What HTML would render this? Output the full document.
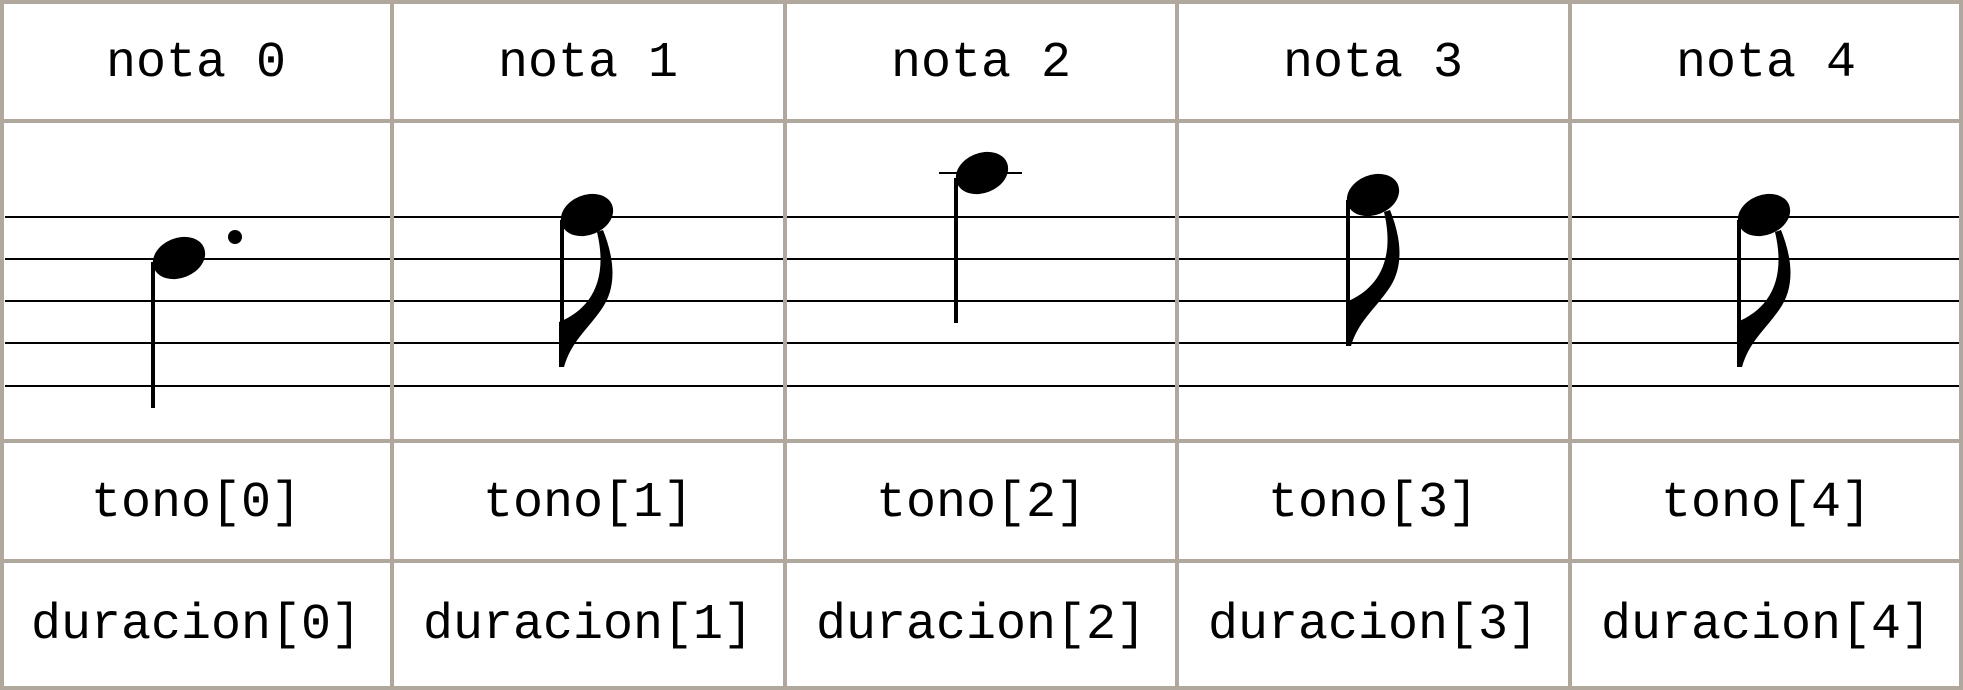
<!DOCTYPE html>
<html><head><meta charset="utf-8"><style>
html,body{margin:0;padding:0;background:#fff;}
svg{display:block}
text{font-family:"Liberation Mono",monospace;font-size:50px;fill:#000;text-anchor:middle;}
</style></head><body>
<svg width="1963" height="690" viewBox="0 0 1963 690" xmlns="http://www.w3.org/2000/svg">
<rect width="1963" height="690" fill="#fff"/>
<g stroke="#000" stroke-width="2">
<line x1="5" y1="217" x2="1960" y2="217"/>
<line x1="5" y1="259" x2="1960" y2="259"/>
<line x1="5" y1="301" x2="1960" y2="301"/>
<line x1="5" y1="343" x2="1960" y2="343"/>
<line x1="5" y1="386" x2="1960" y2="386"/>
</g>
<g stroke="#b0a89c" stroke-width="4" fill="none">
<rect x="2" y="2" width="1959" height="686"/>
<line x1="392" y1="0" x2="392" y2="690"/>
<line x1="785" y1="0" x2="785" y2="690"/>
<line x1="1177" y1="0" x2="1177" y2="690"/>
<line x1="1570" y1="0" x2="1570" y2="690"/>
<line x1="0" y1="121" x2="1963" y2="121"/>
<line x1="0" y1="441" x2="1963" y2="441"/>
<line x1="0" y1="561" x2="1963" y2="561"/>
</g>
<g>
<text x="196" y="76">nota 0</text>
<text x="588" y="76">nota 1</text>
<text x="981" y="76">nota 2</text>
<text x="1373" y="76">nota 3</text>
<text x="1766" y="76">nota 4</text>
<text x="196" y="516">tono[0]</text>
<text x="588" y="516">tono[1]</text>
<text x="981" y="516">tono[2]</text>
<text x="1373" y="516">tono[3]</text>
<text x="1766" y="516">tono[4]</text>
<text x="196" y="638">duracion[0]</text>
<text x="588" y="638">duracion[1]</text>
<text x="981" y="638">duracion[2]</text>
<text x="1373" y="638">duracion[3]</text>
<text x="1766" y="638">duracion[4]</text>
</g>
<g fill="#000" stroke="none">
<!-- note 0 -->
<ellipse cx="179" cy="258" rx="27" ry="20" transform="rotate(-22 179 258)"/>
<rect x="151" y="262" width="4" height="146"/>
<circle cx="235" cy="237" r="7"/>
<!-- note 1 -->
<ellipse cx="587" cy="215" rx="27" ry="20" transform="rotate(-22 587 215)"/>
<rect x="560" y="220" width="4" height="147"/>
<path d="M597,232 L603,230 C615,260 617,288 601,310 C587,330 571,342 564,367 L559,367 L559,322 C589,310 609,282 597,232 Z"/>
<!-- note 2 -->
<line x1="939" y1="173" x2="1022" y2="173" stroke="#000" stroke-width="2"/>
<ellipse cx="982" cy="173" rx="27" ry="20" transform="rotate(-22 982 173)"/>
<rect x="954" y="178" width="4" height="145"/>
<!-- note 3 -->
<ellipse cx="1373" cy="195" rx="27" ry="20" transform="rotate(-22 1373 195)"/>
<rect x="1346" y="200" width="4" height="146"/>
<path d="M1384,212 L1390,210 C1402,240 1404,268 1388,290 C1374,310 1358,322 1351,346 L1346,346 L1346,302 C1376,290 1396,262 1384,212 Z"/>
<!-- note 4 -->
<ellipse cx="1764" cy="215" rx="27" ry="20" transform="rotate(-22 1764 215)"/>
<rect x="1737" y="220" width="4" height="147"/>
<path d="M1775,232 L1781,230 C1793,260 1795,288 1779,310 C1765,330 1749,342 1742,367 L1737,367 L1737,322 C1767,310 1787,282 1775,232 Z"/>
</g>
</svg>
</body></html>
